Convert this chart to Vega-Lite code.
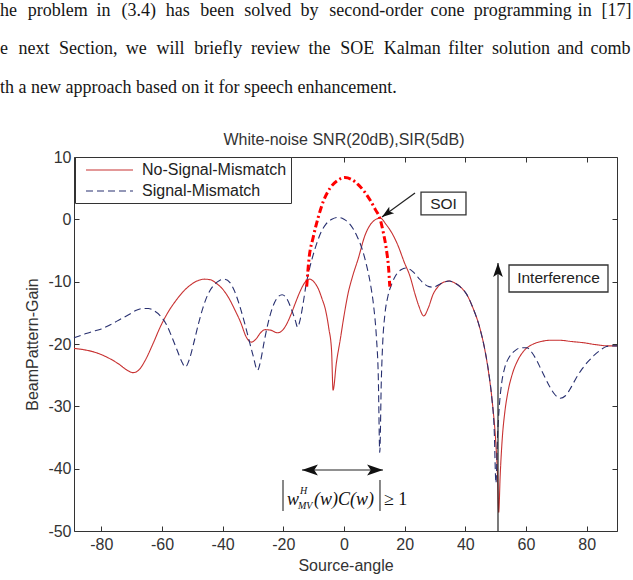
{
  "$schema": "https://vega.github.io/schema/vega-lite/v6.json",
  "width": 543,
  "height": 374,
  "autosize": {"type": "none"},
  "padding": {"left": 74, "top": 157, "right": 16, "bottom": 49},
  "background": "white",
  "config": {
    "view": {"stroke": "#333333", "strokeWidth": 1},
    "axis": {
      "domain": false, "grid": false, "tickSize": -5, "tickColor": "#333333",
      "labelFont": "Liberation Sans", "labelFontSize": 16, "labelColor": "#333333",
      "labelExpr": "replace(datum.label, '−', '-')",
      "titleFont": "Liberation Sans", "titleFontSize": 16, "titleFontWeight": "normal", "titleColor": "#333333"
    }
  },
  "datasets": {
    "paragraph": [
      {"x": -113.39, "y": 32.62, "text": "he"},
      {"x": -104.23, "y": 32.62, "text": "problem"},
      {"x": -81.58, "y": 32.62, "text": "in"},
      {"x": -73.37, "y": 32.62, "text": "(3.4)"},
      {"x": -58.73, "y": 32.62, "text": "has"},
      {"x": -47.39, "y": 32.62, "text": "been"},
      {"x": -32.89, "y": 32.62, "text": "solved"},
      {"x": -14.30, "y": 32.62, "text": "by"},
      {"x": -4.84, "y": 32.62, "text": "second-order"},
      {"x": 28.49, "y": 32.62, "text": "cone"},
      {"x": 42.8, "y": 32.62, "text": "programming"},
      {"x": 77.1, "y": 32.62, "text": "in"},
      {"x": 84.9, "y": 32.62, "text": "[17]"},
      {"x": -113.39, "y": 26.52, "text": "e"},
      {"x": -107.28, "y": 26.52, "text": "next"},
      {"x": -93.94, "y": 26.52, "text": "Section,"},
      {"x": -71.97, "y": 26.52, "text": "we"},
      {"x": -61.77, "y": 26.52, "text": "will"},
      {"x": -49.35, "y": 26.52, "text": "briefly"},
      {"x": -30.68, "y": 26.52, "text": "review"},
      {"x": -11.71, "y": 26.52, "text": "the"},
      {"x": -1.21, "y": 26.52, "text": "SOE"},
      {"x": 13.08, "y": 26.52, "text": "Kalman"},
      {"x": 34.4, "y": 26.52, "text": "filter"},
      {"x": 48.8, "y": 26.52, "text": "solution"},
      {"x": 70.3, "y": 26.52, "text": "and"},
      {"x": 81.3, "y": 26.52, "text": "comb"},
      {"x": -113.39, "y": 20.27, "text": "th a new approach based on it for speech enhancement."}
    ],
    "pattern": [
      {"series": "No-Signal-Mismatch", "angle": -89, "gain": -20.7},
      {"series": "No-Signal-Mismatch", "angle": -86, "gain": -20.9},
      {"series": "No-Signal-Mismatch", "angle": -83, "gain": -21.2},
      {"series": "No-Signal-Mismatch", "angle": -80, "gain": -21.7},
      {"series": "No-Signal-Mismatch", "angle": -77, "gain": -22.4},
      {"series": "No-Signal-Mismatch", "angle": -74, "gain": -23.3},
      {"series": "No-Signal-Mismatch", "angle": -71.5, "gain": -24.2},
      {"series": "No-Signal-Mismatch", "angle": -69.5, "gain": -24.6},
      {"series": "No-Signal-Mismatch", "angle": -67.5, "gain": -24.1},
      {"series": "No-Signal-Mismatch", "angle": -65.5, "gain": -22.6},
      {"series": "No-Signal-Mismatch", "angle": -63, "gain": -20.0},
      {"series": "No-Signal-Mismatch", "angle": -60.5, "gain": -17.2},
      {"series": "No-Signal-Mismatch", "angle": -58, "gain": -14.9},
      {"series": "No-Signal-Mismatch", "angle": -55.5, "gain": -13.1},
      {"series": "No-Signal-Mismatch", "angle": -53, "gain": -11.6},
      {"series": "No-Signal-Mismatch", "angle": -50.5, "gain": -10.5},
      {"series": "No-Signal-Mismatch", "angle": -48, "gain": -9.8},
      {"series": "No-Signal-Mismatch", "angle": -46, "gain": -9.6},
      {"series": "No-Signal-Mismatch", "angle": -44, "gain": -9.7},
      {"series": "No-Signal-Mismatch", "angle": -42, "gain": -10.3},
      {"series": "No-Signal-Mismatch", "angle": -40, "gain": -11.2},
      {"series": "No-Signal-Mismatch", "angle": -38, "gain": -12.6},
      {"series": "No-Signal-Mismatch", "angle": -36, "gain": -14.5},
      {"series": "No-Signal-Mismatch", "angle": -34, "gain": -16.6},
      {"series": "No-Signal-Mismatch", "angle": -32.3, "gain": -18.8},
      {"series": "No-Signal-Mismatch", "angle": -30.5, "gain": -19.7},
      {"series": "No-Signal-Mismatch", "angle": -29, "gain": -19.2},
      {"series": "No-Signal-Mismatch", "angle": -27.5, "gain": -18.2},
      {"series": "No-Signal-Mismatch", "angle": -26, "gain": -17.7},
      {"series": "No-Signal-Mismatch", "angle": -24, "gain": -17.8},
      {"series": "No-Signal-Mismatch", "angle": -22, "gain": -18.2},
      {"series": "No-Signal-Mismatch", "angle": -20.5, "gain": -17.9},
      {"series": "No-Signal-Mismatch", "angle": -19, "gain": -16.9},
      {"series": "No-Signal-Mismatch", "angle": -17.5, "gain": -15.3},
      {"series": "No-Signal-Mismatch", "angle": -16, "gain": -13.4},
      {"series": "No-Signal-Mismatch", "angle": -14.5, "gain": -11.6},
      {"series": "No-Signal-Mismatch", "angle": -13, "gain": -10.2},
      {"series": "No-Signal-Mismatch", "angle": -11.3, "gain": -9.6},
      {"series": "No-Signal-Mismatch", "angle": -9.8, "gain": -10.1},
      {"series": "No-Signal-Mismatch", "angle": -8.5, "gain": -11.1},
      {"series": "No-Signal-Mismatch", "angle": -7.2, "gain": -12.8},
      {"series": "No-Signal-Mismatch", "angle": -6.2, "gain": -14.3},
      {"series": "No-Signal-Mismatch", "angle": -5, "gain": -17.5},
      {"series": "No-Signal-Mismatch", "angle": -4.1, "gain": -21.0},
      {"series": "No-Signal-Mismatch", "angle": -3.6, "gain": -27.4},
      {"series": "No-Signal-Mismatch", "angle": -2.5, "gain": -23.0},
      {"series": "No-Signal-Mismatch", "angle": -1.3, "gain": -19.5},
      {"series": "No-Signal-Mismatch", "angle": 0, "gain": -15.5},
      {"series": "No-Signal-Mismatch", "angle": 1.3, "gain": -12.0},
      {"series": "No-Signal-Mismatch", "angle": 2.8, "gain": -9.2},
      {"series": "No-Signal-Mismatch", "angle": 4.7, "gain": -6.3},
      {"series": "No-Signal-Mismatch", "angle": 6.9, "gain": -2.6},
      {"series": "No-Signal-Mismatch", "angle": 9.1, "gain": -0.6},
      {"series": "No-Signal-Mismatch", "angle": 11.9, "gain": 0.2},
      {"series": "No-Signal-Mismatch", "angle": 14, "gain": -0.9},
      {"series": "No-Signal-Mismatch", "angle": 15.8, "gain": -2.2},
      {"series": "No-Signal-Mismatch", "angle": 17.8, "gain": -4.2},
      {"series": "No-Signal-Mismatch", "angle": 19.8, "gain": -6.8},
      {"series": "No-Signal-Mismatch", "angle": 21.8, "gain": -9.2},
      {"series": "No-Signal-Mismatch", "angle": 23.3, "gain": -11.8},
      {"series": "No-Signal-Mismatch", "angle": 24.6, "gain": -13.8},
      {"series": "No-Signal-Mismatch", "angle": 26.3, "gain": -15.5},
      {"series": "No-Signal-Mismatch", "angle": 27.8, "gain": -14.2},
      {"series": "No-Signal-Mismatch", "angle": 29.4, "gain": -12.0},
      {"series": "No-Signal-Mismatch", "angle": 31, "gain": -10.8},
      {"series": "No-Signal-Mismatch", "angle": 32.8, "gain": -10.1},
      {"series": "No-Signal-Mismatch", "angle": 34.7, "gain": -9.9},
      {"series": "No-Signal-Mismatch", "angle": 36.5, "gain": -10.2},
      {"series": "No-Signal-Mismatch", "angle": 38.5, "gain": -10.9},
      {"series": "No-Signal-Mismatch", "angle": 40.4, "gain": -12.0},
      {"series": "No-Signal-Mismatch", "angle": 42.5, "gain": -14.2},
      {"series": "No-Signal-Mismatch", "angle": 44.7, "gain": -17.3},
      {"series": "No-Signal-Mismatch", "angle": 46.3, "gain": -20.6},
      {"series": "No-Signal-Mismatch", "angle": 47.8, "gain": -25.0},
      {"series": "No-Signal-Mismatch", "angle": 49, "gain": -29.8},
      {"series": "No-Signal-Mismatch", "angle": 50, "gain": -35.5},
      {"series": "No-Signal-Mismatch", "angle": 50.6, "gain": -41.0},
      {"series": "No-Signal-Mismatch", "angle": 51, "gain": -47.0},
      {"series": "No-Signal-Mismatch", "angle": 51.5, "gain": -41.0},
      {"series": "No-Signal-Mismatch", "angle": 52.2, "gain": -35.0},
      {"series": "No-Signal-Mismatch", "angle": 53, "gain": -31.0},
      {"series": "No-Signal-Mismatch", "angle": 54, "gain": -27.8},
      {"series": "No-Signal-Mismatch", "angle": 55.5, "gain": -24.8},
      {"series": "No-Signal-Mismatch", "angle": 57.3, "gain": -22.6},
      {"series": "No-Signal-Mismatch", "angle": 59.5, "gain": -21.0},
      {"series": "No-Signal-Mismatch", "angle": 62, "gain": -20.1},
      {"series": "No-Signal-Mismatch", "angle": 65, "gain": -19.6},
      {"series": "No-Signal-Mismatch", "angle": 68, "gain": -19.4},
      {"series": "No-Signal-Mismatch", "angle": 71, "gain": -19.4},
      {"series": "No-Signal-Mismatch", "angle": 75, "gain": -19.6},
      {"series": "No-Signal-Mismatch", "angle": 79, "gain": -19.8},
      {"series": "No-Signal-Mismatch", "angle": 83, "gain": -20.1},
      {"series": "No-Signal-Mismatch", "angle": 87, "gain": -20.3},
      {"series": "No-Signal-Mismatch", "angle": 90, "gain": -20.3},

      {"series": "Signal-Mismatch", "angle": -89, "gain": -19.0},
      {"series": "Signal-Mismatch", "angle": -86, "gain": -18.5},
      {"series": "Signal-Mismatch", "angle": -83, "gain": -18.0},
      {"series": "Signal-Mismatch", "angle": -80, "gain": -17.6},
      {"series": "Signal-Mismatch", "angle": -77, "gain": -16.9},
      {"series": "Signal-Mismatch", "angle": -74, "gain": -16.1},
      {"series": "Signal-Mismatch", "angle": -71, "gain": -15.3},
      {"series": "Signal-Mismatch", "angle": -68.5, "gain": -14.6},
      {"series": "Signal-Mismatch", "angle": -66.5, "gain": -14.3},
      {"series": "Signal-Mismatch", "angle": -64.5, "gain": -14.3},
      {"series": "Signal-Mismatch", "angle": -62.5, "gain": -14.7},
      {"series": "Signal-Mismatch", "angle": -60.5, "gain": -15.5},
      {"series": "Signal-Mismatch", "angle": -58.5, "gain": -16.9},
      {"series": "Signal-Mismatch", "angle": -56.8, "gain": -18.8},
      {"series": "Signal-Mismatch", "angle": -55, "gain": -21.0},
      {"series": "Signal-Mismatch", "angle": -53.5, "gain": -22.8},
      {"series": "Signal-Mismatch", "angle": -52.3, "gain": -23.7},
      {"series": "Signal-Mismatch", "angle": -51, "gain": -22.5},
      {"series": "Signal-Mismatch", "angle": -49.5, "gain": -19.8},
      {"series": "Signal-Mismatch", "angle": -48, "gain": -16.8},
      {"series": "Signal-Mismatch", "angle": -46.5, "gain": -14.2},
      {"series": "Signal-Mismatch", "angle": -45, "gain": -12.2},
      {"series": "Signal-Mismatch", "angle": -43, "gain": -10.6},
      {"series": "Signal-Mismatch", "angle": -41, "gain": -9.8},
      {"series": "Signal-Mismatch", "angle": -39.3, "gain": -9.6},
      {"series": "Signal-Mismatch", "angle": -37.5, "gain": -10.2},
      {"series": "Signal-Mismatch", "angle": -36, "gain": -11.6},
      {"series": "Signal-Mismatch", "angle": -34.5, "gain": -13.7},
      {"series": "Signal-Mismatch", "angle": -33, "gain": -16.2},
      {"series": "Signal-Mismatch", "angle": -31.5, "gain": -19.0},
      {"series": "Signal-Mismatch", "angle": -30, "gain": -21.8},
      {"series": "Signal-Mismatch", "angle": -28.5, "gain": -24.2},
      {"series": "Signal-Mismatch", "angle": -27.4, "gain": -22.5},
      {"series": "Signal-Mismatch", "angle": -26.3, "gain": -19.6},
      {"series": "Signal-Mismatch", "angle": -25, "gain": -16.6},
      {"series": "Signal-Mismatch", "angle": -23.6, "gain": -14.2},
      {"series": "Signal-Mismatch", "angle": -22, "gain": -12.6},
      {"series": "Signal-Mismatch", "angle": -20.4, "gain": -12.1},
      {"series": "Signal-Mismatch", "angle": -19, "gain": -12.6},
      {"series": "Signal-Mismatch", "angle": -17.5, "gain": -14.2},
      {"series": "Signal-Mismatch", "angle": -16, "gain": -16.3},
      {"series": "Signal-Mismatch", "angle": -15.3, "gain": -17.3},
      {"series": "Signal-Mismatch", "angle": -14.5, "gain": -16.2},
      {"series": "Signal-Mismatch", "angle": -13.5, "gain": -13.6},
      {"series": "Signal-Mismatch", "angle": -12.5, "gain": -10.5},
      {"series": "Signal-Mismatch", "angle": -11.5, "gain": -8.2},
      {"series": "Signal-Mismatch", "angle": -10.5, "gain": -6.3},
      {"series": "Signal-Mismatch", "angle": -9, "gain": -3.9},
      {"series": "Signal-Mismatch", "angle": -7.5, "gain": -2.0},
      {"series": "Signal-Mismatch", "angle": -6, "gain": -0.8},
      {"series": "Signal-Mismatch", "angle": -4, "gain": 0.0},
      {"series": "Signal-Mismatch", "angle": -2, "gain": 0.3},
      {"series": "Signal-Mismatch", "angle": 0, "gain": 0.0},
      {"series": "Signal-Mismatch", "angle": 2, "gain": -0.8},
      {"series": "Signal-Mismatch", "angle": 4.3, "gain": -2.7},
      {"series": "Signal-Mismatch", "angle": 6, "gain": -4.8},
      {"series": "Signal-Mismatch", "angle": 7.5, "gain": -7.5},
      {"series": "Signal-Mismatch", "angle": 8.8, "gain": -10.6},
      {"series": "Signal-Mismatch", "angle": 9.8, "gain": -14.0},
      {"series": "Signal-Mismatch", "angle": 10.7, "gain": -19.0},
      {"series": "Signal-Mismatch", "angle": 11.3, "gain": -25.0},
      {"series": "Signal-Mismatch", "angle": 11.8, "gain": -37.4},
      {"series": "Signal-Mismatch", "angle": 12.3, "gain": -26.0},
      {"series": "Signal-Mismatch", "angle": 12.8, "gain": -19.5},
      {"series": "Signal-Mismatch", "angle": 13.5, "gain": -15.2},
      {"series": "Signal-Mismatch", "angle": 14.5, "gain": -12.3},
      {"series": "Signal-Mismatch", "angle": 15.8, "gain": -10.3},
      {"series": "Signal-Mismatch", "angle": 17.2, "gain": -8.9},
      {"series": "Signal-Mismatch", "angle": 18.8, "gain": -8.1},
      {"series": "Signal-Mismatch", "angle": 20.5, "gain": -7.8},
      {"series": "Signal-Mismatch", "angle": 22.5, "gain": -8.3},
      {"series": "Signal-Mismatch", "angle": 24.4, "gain": -9.3},
      {"series": "Signal-Mismatch", "angle": 26.3, "gain": -10.3},
      {"series": "Signal-Mismatch", "angle": 28, "gain": -10.8},
      {"series": "Signal-Mismatch", "angle": 29.5, "gain": -10.9},
      {"series": "Signal-Mismatch", "angle": 31.2, "gain": -10.5},
      {"series": "Signal-Mismatch", "angle": 33, "gain": -10.1},
      {"series": "Signal-Mismatch", "angle": 34.7, "gain": -9.9},
      {"series": "Signal-Mismatch", "angle": 36.5, "gain": -10.2},
      {"series": "Signal-Mismatch", "angle": 38.5, "gain": -10.9},
      {"series": "Signal-Mismatch", "angle": 40.4, "gain": -12.0},
      {"series": "Signal-Mismatch", "angle": 42.5, "gain": -14.2},
      {"series": "Signal-Mismatch", "angle": 44.7, "gain": -17.3},
      {"series": "Signal-Mismatch", "angle": 46.3, "gain": -20.6},
      {"series": "Signal-Mismatch", "angle": 47.6, "gain": -24.2},
      {"series": "Signal-Mismatch", "angle": 48.7, "gain": -28.5},
      {"series": "Signal-Mismatch", "angle": 49.5, "gain": -33.5},
      {"series": "Signal-Mismatch", "angle": 50.1, "gain": -42.3},
      {"series": "Signal-Mismatch", "angle": 50.6, "gain": -35.0},
      {"series": "Signal-Mismatch", "angle": 51.2, "gain": -30.0},
      {"series": "Signal-Mismatch", "angle": 52, "gain": -26.2},
      {"series": "Signal-Mismatch", "angle": 53, "gain": -23.8},
      {"series": "Signal-Mismatch", "angle": 54.5, "gain": -22.1},
      {"series": "Signal-Mismatch", "angle": 56.3, "gain": -21.1},
      {"series": "Signal-Mismatch", "angle": 58.3, "gain": -20.6},
      {"series": "Signal-Mismatch", "angle": 60.3, "gain": -20.6},
      {"series": "Signal-Mismatch", "angle": 62, "gain": -21.4},
      {"series": "Signal-Mismatch", "angle": 63.5, "gain": -22.6},
      {"series": "Signal-Mismatch", "angle": 65, "gain": -24.1},
      {"series": "Signal-Mismatch", "angle": 66.5, "gain": -25.6},
      {"series": "Signal-Mismatch", "angle": 68, "gain": -27.0},
      {"series": "Signal-Mismatch", "angle": 69.5, "gain": -28.1},
      {"series": "Signal-Mismatch", "angle": 71.3, "gain": -28.7},
      {"series": "Signal-Mismatch", "angle": 73, "gain": -28.3},
      {"series": "Signal-Mismatch", "angle": 74.8, "gain": -27.0},
      {"series": "Signal-Mismatch", "angle": 76.6, "gain": -25.4},
      {"series": "Signal-Mismatch", "angle": 78.5, "gain": -24.0},
      {"series": "Signal-Mismatch", "angle": 80.5, "gain": -22.8},
      {"series": "Signal-Mismatch", "angle": 82.5, "gain": -21.8},
      {"series": "Signal-Mismatch", "angle": 84.5, "gain": -21.0},
      {"series": "Signal-Mismatch", "angle": 86.5, "gain": -20.4},
      {"series": "Signal-Mismatch", "angle": 88, "gain": -20.3},
      {"series": "Signal-Mismatch", "angle": 90, "gain": -20.3}
    ],
    "bound": [
      {"angle": -12.3, "gain": -10.8},
      {"angle": -11.5, "gain": -6.2},
      {"angle": -10.2, "gain": -3.0},
      {"angle": -8.5, "gain": 0.3},
      {"angle": -6.8, "gain": 2.9},
      {"angle": -4.6, "gain": 5.0},
      {"angle": -2.2, "gain": 6.2},
      {"angle": 0.3, "gain": 6.7},
      {"angle": 2.5, "gain": 6.4},
      {"angle": 4.6, "gain": 5.6},
      {"angle": 6.8, "gain": 4.4},
      {"angle": 8.6, "gain": 3.1},
      {"angle": 10.3, "gain": 1.6},
      {"angle": 11.8, "gain": 0.2},
      {"angle": 13.0, "gain": -2.2},
      {"angle": 14.0, "gain": -4.9},
      {"angle": 14.7, "gain": -7.8},
      {"angle": 15.1, "gain": -10.8}
    ],
    "boxes": [
      {"label": "SOI", "x1": 25.39, "x2": 40.22, "y1": 0.7, "y2": 4.38, "cx": 32.81, "cy": 2.54},
      {"label": "Interference", "x1": 54.4, "x2": 87.03, "y1": -11.66, "y2": -7.33, "cx": 70.72, "cy": -9.49}
    ],
    "shafts": [
      {"x1": 23.41, "y1": 4.22, "x2": 12.53, "y2": 0.37},
      {"x1": 50.77, "y1": -50, "x2": 50.77, "y2": -7.0},
      {"x1": -13.84, "y1": -40.21, "x2": 12.86, "y2": -40.21}
    ],
    "bars": [
      {"x": -20.1, "y1": -41.82, "y2": -46.79},
      {"x": 11.87, "y1": -41.82, "y2": -46.79}
    ]
  },
  "resolve": {"axis": {"x": "independent", "y": "independent"}},
  "layer": [
    {
      "data": {"name": "paragraph"},
      "mark": {"type": "text", "align": "left", "baseline": "alphabetic", "font": "Liberation Serif", "fontSize": 18, "color": "#151515"},
      "encoding": {
        "x": {"field": "x", "type": "quantitative", "scale": {"domain": [-89, 90], "nice": false, "zero": false}, "axis": null},
        "y": {"field": "y", "type": "quantitative", "scale": {"domain": [-50, 10], "nice": false, "zero": false}, "axis": null},
        "text": {"field": "text"}
      }
    },
    {
      "data": {"values": [{"x": 0, "y": 11.93, "text": "White-noise SNR(20dB),SIR(5dB)"}]},
      "mark": {"type": "text", "align": "center", "baseline": "alphabetic", "font": "Liberation Sans", "fontSize": 16, "color": "#333333"},
      "encoding": {
        "x": {"field": "x", "type": "quantitative", "scale": {"domain": [-89, 90], "nice": false, "zero": false}, "axis": null},
        "y": {"field": "y", "type": "quantitative", "scale": {"domain": [-50, 10], "nice": false, "zero": false}, "axis": null},
        "text": {"field": "text"}
      }
    },
    {
      "data": {"name": "pattern"},
      "mark": {"type": "line", "interpolate": "monotone", "strokeWidth": 1.1},
      "encoding": {
        "x": {"field": "angle", "type": "quantitative", "scale": {"domain": [-89, 90], "nice": false, "zero": false},
              "axis": {"orient": "bottom", "values": [-80, -60, -40, -20, 0, 20, 40, 60, 80], "title": "Source-angle", "labelPadding": 10, "titlePadding": 5}},
        "y": {"field": "gain", "type": "quantitative", "scale": {"domain": [-50, 10], "nice": false, "zero": false},
              "axis": {"orient": "left", "values": [-50, -40, -30, -20, -10, 0, 10], "title": "BeamPattern-Gain", "labelPadding": 8, "titlePadding": 7}},
        "color": {
          "field": "series", "type": "nominal",
          "scale": {"domain": ["No-Signal-Mismatch", "Signal-Mismatch"], "range": ["#c83232", "#283070"]},
          "legend": {
            "title": null, "orient": "none", "legendX": 1, "legendY": 0,
            "strokeColor": "#333333", "fillColor": "#ffffff", "padding": 4,
            "symbolType": "M-0.25,0H5.625", "symbolSize": 256, "symbolStrokeWidth": 1.2,
            "labelFont": "Liberation Sans", "labelFontSize": 16, "labelColor": "#222222",
            "labelOffset": 45, "rowPadding": 4
          }
        },
        "strokeDash": {
          "field": "series", "type": "nominal",
          "scale": {"domain": ["No-Signal-Mismatch", "Signal-Mismatch"], "range": [[1, 0], [7, 4]]},
          "legend": null
        }
      }
    },
    {
      "data": {"name": "bound"},
      "mark": {"type": "line", "interpolate": "monotone", "color": "#ff0000", "strokeWidth": 3, "strokeDash": [7, 3, 2, 3]},
      "encoding": {
        "x": {"field": "angle", "type": "quantitative", "scale": {"domain": [-89, 90], "nice": false, "zero": false},
              "axis": {"orient": "top", "values": [-80, -60, -40, -20, 0, 20, 40, 60, 80], "labels": false, "title": null}},
        "y": {"field": "gain", "type": "quantitative", "scale": {"domain": [-50, 10], "nice": false, "zero": false},
              "axis": {"orient": "right", "values": [-50, -40, -30, -20, -10, 0, 10], "labels": false, "title": null}}
      }
    },
    {
      "data": {"name": "shafts"},
      "mark": {"type": "rule", "color": "#222222", "strokeWidth": 1.2},
      "encoding": {
        "x": {"field": "x1", "type": "quantitative", "scale": {"domain": [-89, 90], "nice": false, "zero": false}, "axis": null},
        "y": {"field": "y1", "type": "quantitative", "scale": {"domain": [-50, 10], "nice": false, "zero": false}, "axis": null},
        "x2": {"field": "x2"},
        "y2": {"field": "y2"}
      }
    },
    {
      "data": {"values": [{"x": 12.53, "y": 0.37}]},
      "mark": {"type": "point", "shape": "M0,0L0.45,1.3L0,1L-0.45,1.3Z", "filled": true, "color": "#111111", "opacity": 1, "size": 340, "angle": 234},
      "encoding": {
        "x": {"field": "x", "type": "quantitative", "scale": {"domain": [-89, 90], "nice": false, "zero": false}, "axis": null},
        "y": {"field": "y", "type": "quantitative", "scale": {"domain": [-50, 10], "nice": false, "zero": false}, "axis": null}
      }
    },
    {
      "data": {"values": [{"x": 50.77, "y": -7.0}]},
      "mark": {"type": "point", "shape": "M0,0L0.45,1.3L0,1L-0.45,1.3Z", "filled": true, "color": "#111111", "opacity": 1, "size": 465, "angle": 0},
      "encoding": {
        "x": {"field": "x", "type": "quantitative", "scale": {"domain": [-89, 90], "nice": false, "zero": false}, "axis": null},
        "y": {"field": "y", "type": "quantitative", "scale": {"domain": [-50, 10], "nice": false, "zero": false}, "axis": null}
      }
    },
    {
      "data": {"values": [{"x": -13.84, "y": -40.21}]},
      "mark": {"type": "point", "shape": "M0,0L0.45,1.3L0,1L-0.45,1.3Z", "filled": true, "color": "#111111", "opacity": 1, "size": 600, "angle": 270},
      "encoding": {
        "x": {"field": "x", "type": "quantitative", "scale": {"domain": [-89, 90], "nice": false, "zero": false}, "axis": null},
        "y": {"field": "y", "type": "quantitative", "scale": {"domain": [-50, 10], "nice": false, "zero": false}, "axis": null}
      }
    },
    {
      "data": {"values": [{"x": 12.86, "y": -40.21}]},
      "mark": {"type": "point", "shape": "M0,0L0.45,1.3L0,1L-0.45,1.3Z", "filled": true, "color": "#111111", "opacity": 1, "size": 600, "angle": 90},
      "encoding": {
        "x": {"field": "x", "type": "quantitative", "scale": {"domain": [-89, 90], "nice": false, "zero": false}, "axis": null},
        "y": {"field": "y", "type": "quantitative", "scale": {"domain": [-50, 10], "nice": false, "zero": false}, "axis": null}
      }
    },
    {
      "data": {"name": "boxes"},
      "mark": {"type": "rect", "fill": "#ffffff", "stroke": "#333333", "strokeWidth": 1.3},
      "encoding": {
        "x": {"field": "x1", "type": "quantitative", "scale": {"domain": [-89, 90], "nice": false, "zero": false}, "axis": null},
        "y": {"field": "y1", "type": "quantitative", "scale": {"domain": [-50, 10], "nice": false, "zero": false}, "axis": null},
        "x2": {"field": "x2"},
        "y2": {"field": "y2"}
      }
    },
    {
      "data": {"name": "boxes"},
      "mark": {"type": "text", "align": "center", "baseline": "middle", "font": "Liberation Sans", "fontSize": 15.5, "color": "#222222"},
      "encoding": {
        "x": {"field": "cx", "type": "quantitative", "scale": {"domain": [-89, 90], "nice": false, "zero": false}, "axis": null},
        "y": {"field": "cy", "type": "quantitative", "scale": {"domain": [-50, 10], "nice": false, "zero": false}, "axis": null},
        "text": {"field": "label"}
      }
    },
    {
      "data": {"name": "bars"},
      "mark": {"type": "rule", "color": "#111111", "strokeWidth": 1},
      "encoding": {
        "x": {"field": "x", "type": "quantitative", "scale": {"domain": [-89, 90], "nice": false, "zero": false}, "axis": null},
        "y": {"field": "y1", "type": "quantitative", "scale": {"domain": [-50, 10], "nice": false, "zero": false}, "axis": null},
        "y2": {"field": "y2"}
      }
    },
    {
      "data": {"values": [
        {"x": -18.78, "y": -45.83, "text": "w"},
        {"x": -9.88, "y": -45.83, "text": "(w)C(w)"}
      ]},
      "mark": {"type": "text", "align": "left", "baseline": "alphabetic", "font": "Liberation Serif", "fontStyle": "italic", "fontSize": 18, "color": "#111111"},
      "encoding": {
        "x": {"field": "x", "type": "quantitative", "scale": {"domain": [-89, 90], "nice": false, "zero": false}, "axis": null},
        "y": {"field": "y", "type": "quantitative", "scale": {"domain": [-50, 10], "nice": false, "zero": false}, "axis": null},
        "text": {"field": "text"}
      }
    },
    {
      "data": {"values": [
        {"x": -14.5, "y": -44.06, "text": "H"},
        {"x": -15.16, "y": -46.47, "text": "MV"}
      ]},
      "mark": {"type": "text", "align": "left", "baseline": "alphabetic", "font": "Liberation Serif", "fontStyle": "italic", "fontSize": 10, "color": "#111111"},
      "encoding": {
        "x": {"field": "x", "type": "quantitative", "scale": {"domain": [-89, 90], "nice": false, "zero": false}, "axis": null},
        "y": {"field": "y", "type": "quantitative", "scale": {"domain": [-50, 10], "nice": false, "zero": false}, "axis": null},
        "text": {"field": "text"}
      }
    },
    {
      "data": {"values": [{"x": 13.19, "y": -45.83, "text": "≥ 1"}]},
      "mark": {"type": "text", "align": "left", "baseline": "alphabetic", "font": "Liberation Serif", "fontSize": 18, "color": "#111111"},
      "encoding": {
        "x": {"field": "x", "type": "quantitative", "scale": {"domain": [-89, 90], "nice": false, "zero": false}, "axis": null},
        "y": {"field": "y", "type": "quantitative", "scale": {"domain": [-50, 10], "nice": false, "zero": false}, "axis": null},
        "text": {"field": "text"}
      }
    }
  ]
}
